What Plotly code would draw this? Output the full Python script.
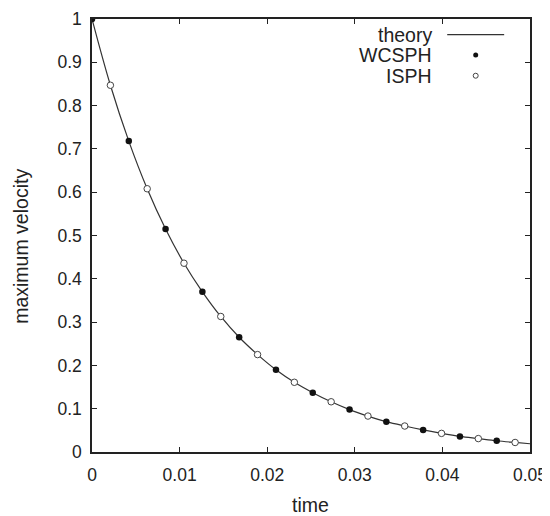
import plotly.graph_objects as go

# values
wcsph_t = [0.0, 0.0042, 0.0084, 0.0126, 0.0168, 0.0210, 0.0252, 0.0294, 0.0336, 0.0378, 0.0420, 0.0462]
wcsph_v = [1.0, 0.718, 0.515, 0.370, 0.265, 0.190, 0.137, 0.098, 0.070, 0.051, 0.036, 0.026]

isph_t = [0.0021, 0.0063, 0.0105, 0.0147, 0.0189, 0.0231, 0.0273, 0.0315, 0.0357, 0.0399, 0.0441, 0.0483]
isph_v = [0.847, 0.608, 0.436, 0.313, 0.225, 0.161, 0.116, 0.083, 0.060, 0.043, 0.031, 0.022]

theory_t = [0.0, 0.0021, 0.0042, 0.0063, 0.0084, 0.0105, 0.0126, 0.0147, 0.0168, 0.0189, 0.0210,
            0.0231, 0.0252, 0.0273, 0.0294, 0.0315, 0.0336, 0.0357, 0.0378, 0.0399, 0.0420,
            0.0441, 0.0462, 0.0483, 0.0500]
theory_v = [1.0, 0.847, 0.718, 0.608, 0.515, 0.436, 0.370, 0.313, 0.265, 0.225, 0.190,
            0.161, 0.137, 0.116, 0.098, 0.083, 0.070, 0.060, 0.051, 0.043, 0.036,
            0.031, 0.026, 0.022, 0.019]

x_ticks = [0, 0.01, 0.02, 0.03, 0.04, 0.05]
x_labels = ['0', '0.01', '0.02', '0.03', '0.04', '0.05']
y_ticks = [0, 0.1, 0.2, 0.3, 0.4, 0.5, 0.6, 0.7, 0.8, 0.9, 1.0]
y_labels = ['0', '0.1', '0.2', '0.3', '0.4', '0.5', '0.6', '0.7', '0.8', '0.9', '1']

FONT = 'Liberation Sans, Arial, Helvetica, sans-serif'
INK = '#222222'
TICK_SIZE = 17.5
TEXT_SIZE = 19.5

fig = go.Figure()
fig.add_trace(go.Scatter(x=theory_t, y=theory_v, mode='lines', name='theory',
                         line=dict(color='#333333', width=1.2, shape='spline')))
fig.add_trace(go.Scatter(x=wcsph_t, y=wcsph_v, mode='markers', name='WCSPH',
                         marker=dict(size=6.5, color='#111111', line=dict(width=0))))
fig.add_trace(go.Scatter(x=isph_t, y=isph_v, mode='markers', name='ISPH',
                         marker=dict(size=6.5, color='white', line=dict(width=1, color='#444444'))))

axis_style = dict(showline=True, linecolor=INK, linewidth=1.5, mirror='ticks',
                  ticks='inside', ticklen=5, tickwidth=1.2, tickcolor=INK,
                  showgrid=False, zeroline=False, automargin=False, ticklabeloverflow='allow',
                  tickfont=dict(size=TICK_SIZE, color=INK, family=FONT))

fig.update_xaxes(range=[0, 0.05], tickmode='array', tickvals=x_ticks, ticktext=x_labels,
                 ticklabelstandoff=6, **axis_style)
fig.update_yaxes(range=[0, 1], tickmode='array', tickvals=y_ticks, ticktext=y_labels,
                 ticklabelstandoff=5, **axis_style)

# axis titles placed like the gnuplot original
fig.add_annotation(x=0.498, y=-0.122, xref='paper', yref='paper', text='time', showarrow=False,
                   xanchor='center', yanchor='middle', font=dict(size=TEXT_SIZE, color=INK, family=FONT))
fig.add_annotation(x=-0.161, y=0.475, xref='paper', yref='paper', text='maximum velocity',
                   showarrow=False, textangle=-90, xanchor='center', yanchor='middle',
                   font=dict(size=TEXT_SIZE, color=INK, family=FONT))

# legend drawn by hand: text right-aligned, sample on the right (gnuplot style)
legend_rows = [('theory', 0.964), ('WCSPH', 0.917), ('ISPH', 0.869)]
for name, yy in legend_rows:
    fig.add_annotation(x=0.781, y=yy, xref='paper', yref='paper', text=name, showarrow=False,
                       xanchor='right', yanchor='middle', font=dict(size=TEXT_SIZE, color=INK, family=FONT))
fig.add_shape(type='line', xref='paper', yref='paper', x0=0.811, x1=0.941, y0=0.964, y1=0.964,
              line=dict(color='#333333', width=1.2))
fig.add_shape(type='circle', xref='paper', yref='paper', xsizemode='pixel', ysizemode='pixel',
              xanchor=0.876, yanchor=0.917, x0=-2.5, x1=2.5, y0=-2.5, y1=2.5,
              fillcolor='#111111', line=dict(width=0))
fig.add_shape(type='circle', xref='paper', yref='paper', xsizemode='pixel', ysizemode='pixel',
              xanchor=0.876, yanchor=0.869, x0=-2.5, x1=2.5, y0=-2.5, y1=2.5,
              fillcolor='white', line=dict(width=1, color='#444444'))

fig.update_layout(width=550, height=516, showlegend=False,
                  margin=dict(l=84, r=28, t=11, b=72),
                  plot_bgcolor='white', paper_bgcolor='white',
                  font=dict(family=FONT, color=INK))

fig.write_html('out.html')
